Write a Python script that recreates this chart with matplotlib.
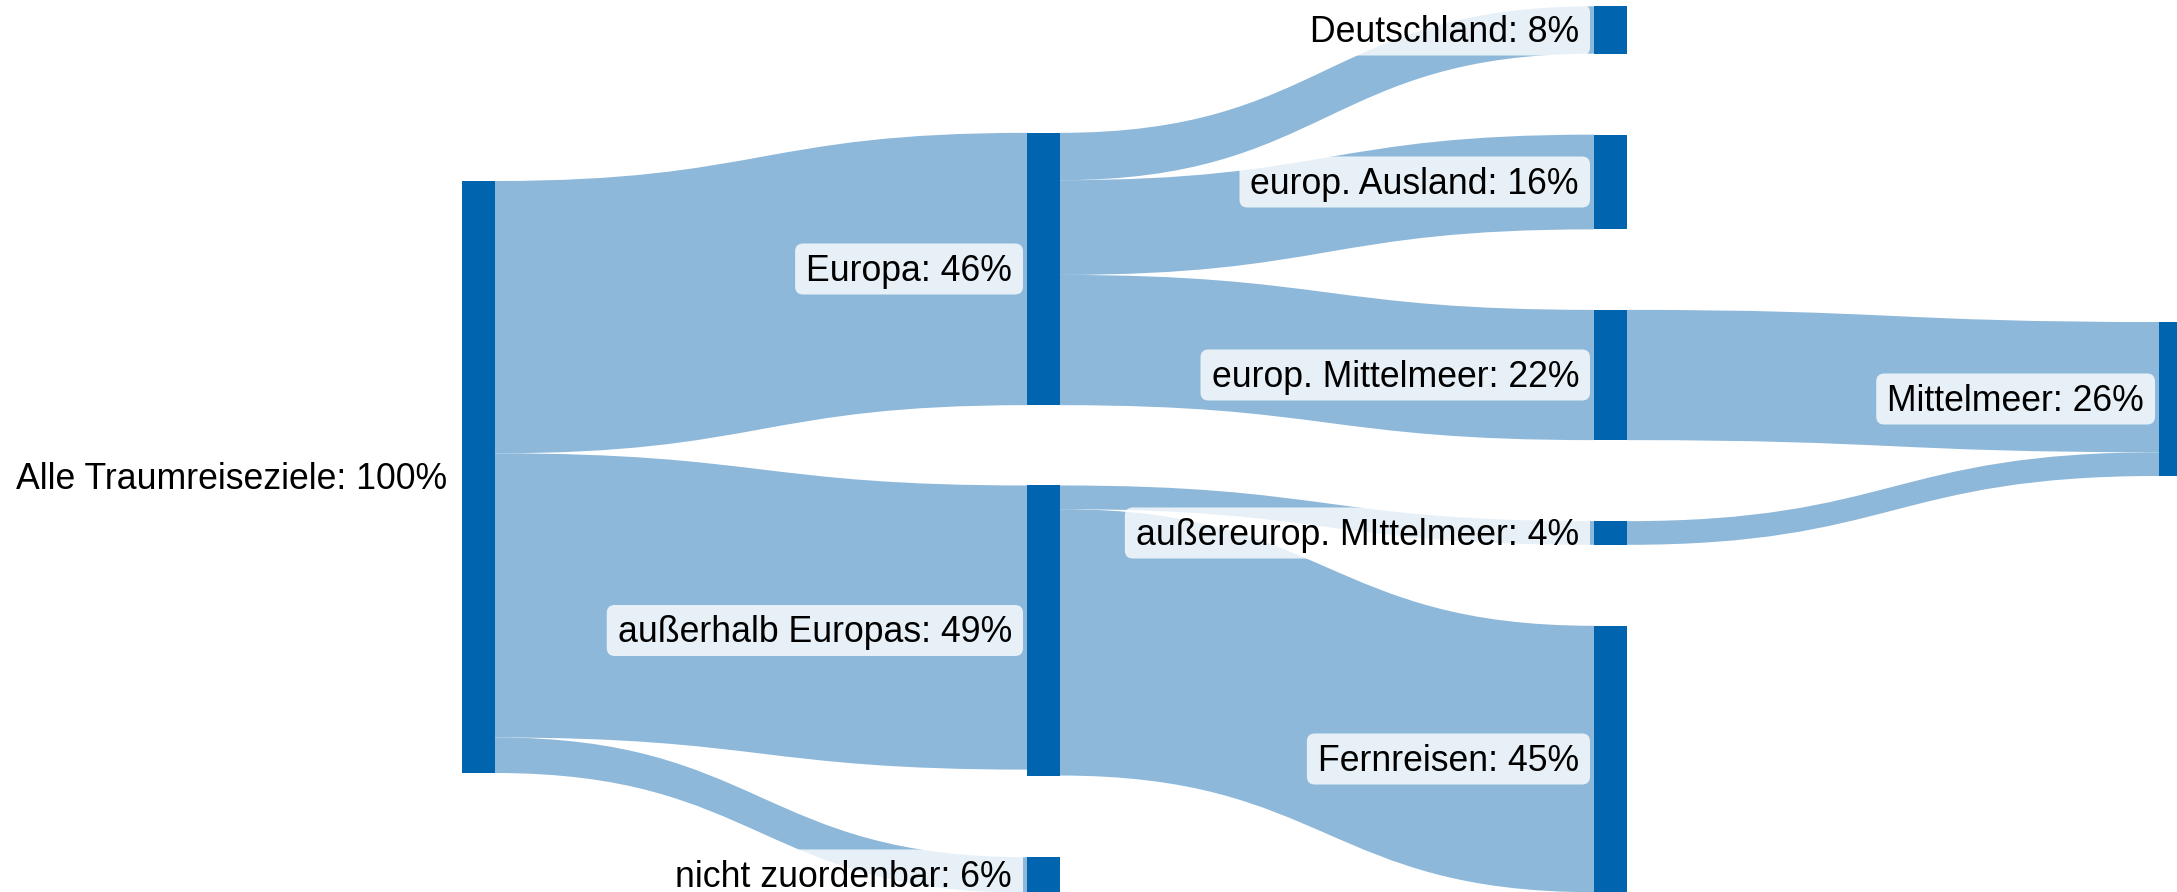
import matplotlib
matplotlib.use("Agg")
import matplotlib.pyplot as plt
from matplotlib.path import Path
from matplotlib.patches import PathPatch, Rectangle, FancyBboxPatch

## Data ##
names = ["Alle Traumreiseziele",
         "Europa",
         "außerhalb Europas",
         "nicht zuordenbar",
         "Deutschland",
         "europ. Ausland",
         "europ. Mittelmeer",
         "außereurop. MIttelmeer",
         "Fernreisen",
         "Mittelmeer"]
sources = [0, 0, 0, 1, 1, 1, 2, 2, 6, 7]
targets = [1, 2, 3, 4, 5, 6, 7, 8, 9, 9]
values = [46, 48, 6, 8, 16, 22, 4, 45, 22, 4]

## Layout (pixels) ##
node_col = [0, 1, 1, 1, 2, 2, 2, 2, 2, 3]
node_yc = [477, 269, 630.5, 875, 30, 182, 375, 533, 759, 399]
col_x = [462, 1027, 1594, 2159]
node_w = 33
px_per_pct = 5.92

node_col_c = "#0064ae"
link_c = "#8db8da"
font = "Liberation Sans"
fs = 35.6 * 72 / 100

W, H = 2177, 892
fig = plt.figure(figsize=(W / 100, H / 100), dpi=100)
ax = fig.add_axes([0, 0, 1, 1])
ax.set_xlim(0, W)
ax.set_ylim(H, 0)
ax.axis("off")

n = len(names)
inflow = [0] * n
outflow = [0] * n
for s, t, v in zip(sources, targets, values):
    outflow[s] += v
    inflow[t] += v
node_val = [max(i, o) for i, o in zip(inflow, outflow)]
node_top = [node_yc[i] - node_val[i] * px_per_pct / 2 for i in range(n)]

# stacking offsets of links at each node
links = list(range(len(values)))
out_off = {}
in_off = {}
for i in range(n):
    outs = sorted([k for k in links if sources[k] == i], key=lambda k: node_yc[targets[k]])
    y = node_top[i]
    for k in outs:
        out_off[k] = y
        y += values[k] * px_per_pct
    ins = sorted([k for k in links if targets[k] == i], key=lambda k: node_yc[sources[k]])
    y = node_top[i]
    for k in ins:
        in_off[k] = y
        y += values[k] * px_per_pct

for k in links:
    s, t = sources[k], targets[k]
    h = values[k] * px_per_pct
    x0 = col_x[node_col[s]] + node_w
    x1 = col_x[node_col[t]]
    xm = (x0 + x1) / 2
    y0, y1 = out_off[k], in_off[k]
    verts = [(x0, y0), (xm, y0), (xm, y1), (x1, y1),
             (x1, y1 + h), (xm, y1 + h), (xm, y0 + h), (x0, y0 + h), (x0, y0)]
    codes = [Path.MOVETO, Path.CURVE4, Path.CURVE4, Path.CURVE4,
             Path.LINETO, Path.CURVE4, Path.CURVE4, Path.CURVE4, Path.CLOSEPOLY]
    ax.add_patch(PathPatch(Path(verts, codes), facecolor=link_c, edgecolor="none",
                           lw=0, zorder=1))

# labels, left of each node
texts = []
for i in range(n):
    x = col_x[node_col[i]] - 15
    t = ax.text(x, node_yc[i] + 12, f"{names[i]}: {node_val[i]}%", ha="right",
                va="baseline", fontsize=fs, family=font, color="black", zorder=4)
    texts.append(t)

fig.canvas.draw()
inv = ax.transData.inverted()
for i, t in enumerate(texts):
    bb = t.get_window_extent()
    left = inv.transform((bb.x0, bb.y0))[0]
    bx0 = left - 11
    bx1 = col_x[node_col[i]] - 4
    ax.add_patch(FancyBboxPatch((bx0, node_yc[i] - 25.5), bx1 - bx0, 51,
                                boxstyle="round,pad=0,rounding_size=8",
                                facecolor="white", alpha=0.8, edgecolor="none",
                                zorder=3))

for i in range(n):
    ax.add_patch(Rectangle((col_x[node_col[i]], node_top[i]), node_w,
                           node_val[i] * px_per_pct, facecolor=node_col_c,
                           edgecolor="none", zorder=5))

fig.savefig("out.png", dpi=100)
